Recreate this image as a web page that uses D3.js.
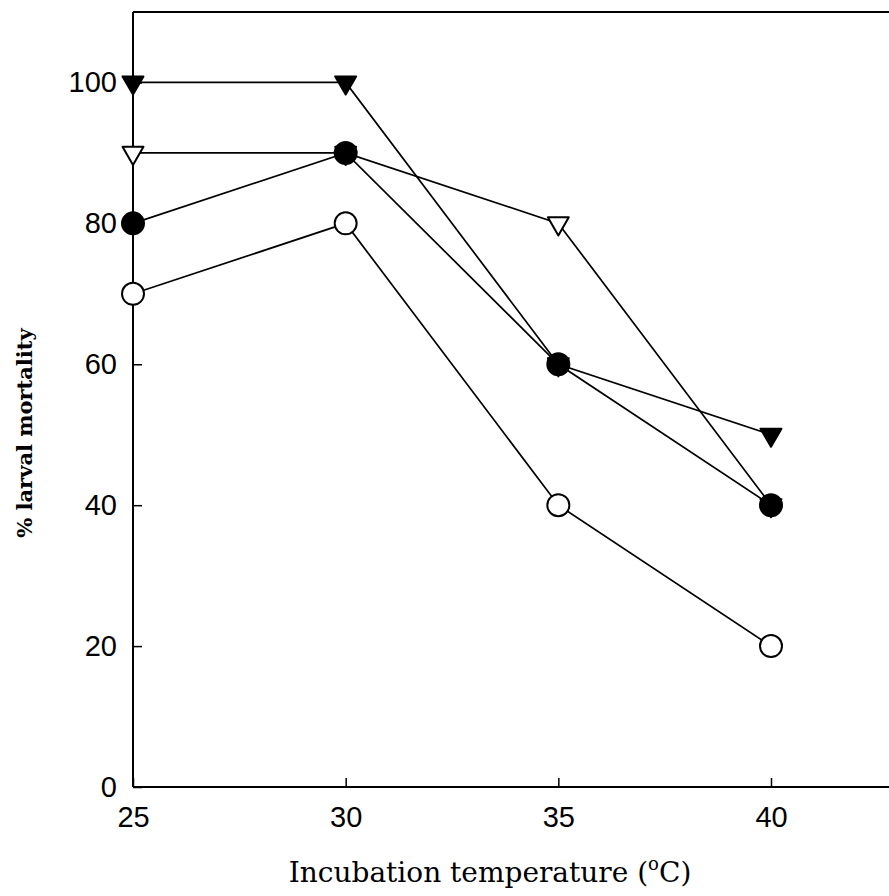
<!DOCTYPE html>
<html><head><meta charset="utf-8">
<script src="https://cdn.jsdelivr.net/npm/d3@7"></script>
<style>html,body{margin:0;padding:0;background:#fff}</style>
</head><body>
<svg id="c" width="889" height="896"></svg>
<script>
const temps = [25, 30, 35, 40];
const filledTriangle = [100, 100, 60, 50];
const openTriangle = [90, 90, 80, 40];
const filledCircle = [80, 90, 60, 40];
const openCircle = [70, 80, 40, 20];
const xTicks = [25, 30, 35, 40];
const yTicks = [0, 20, 40, 60, 80, 100];

(function () {
const series = [
  {name: "openTriangle", values: openTriangle, shape: "triangle", fill: "#fff"},
  {name: "filledTriangle", values: filledTriangle, shape: "triangle", fill: "#000"},
  {name: "openCircle", values: openCircle, shape: "circle", fill: "#fff"},
  {name: "filledCircle", values: filledCircle, shape: "circle", fill: "#000"}
];

const svg = d3.select("#c");
const mLeft = 133, mBottom = 787, mTop = 12, mRight = 889;
const x = d3.scaleLinear().domain([25, 40]).range([mLeft, 771]);
const y = d3.scaleLinear().domain([0, 110]).range([mBottom, mTop]);

const g = svg.append("g");
g.append("line").attr("x1", mLeft).attr("x2", mRight).attr("y1", mTop).attr("y2", mTop)
  .attr("stroke", "#000").attr("stroke-width", 2);

const xAxis = d3.axisBottom(x).tickValues(xTicks).tickSizeInner(-9).tickSizeOuter(0).tickPadding(19);
const xg = g.append("g").attr("transform", `translate(0,${mBottom})`).call(xAxis);
xg.select(".domain").attr("d", `M${mLeft},0H${mRight}`).attr("stroke-width", 2);
xg.selectAll(".tick line").attr("stroke-width", 1.5);
xg.selectAll(".tick text").attr("font-family", "Liberation Sans, Arial, sans-serif").attr("font-size", 29).attr("fill", "#000");

const yAxis = d3.axisLeft(y).tickValues(yTicks).tickSizeInner(-9).tickSizeOuter(0).tickPadding(16);
const yg = g.append("g").attr("transform", `translate(${mLeft},0)`).call(yAxis);
yg.select(".domain").attr("d", `M0,${mBottom}V${mTop}`).attr("stroke-width", 2);
yg.selectAll(".tick line").attr("stroke-width", 1.5);
yg.selectAll(".tick text").attr("font-family", "Liberation Sans, Arial, sans-serif").attr("font-size", 29).attr("fill", "#000");

const xt = svg.append("text").attr("x", 490).attr("y", 882).attr("text-anchor", "middle")
  .attr("font-family", "DejaVu Serif, serif").attr("font-size", 28).attr("fill", "#000");
xt.append("tspan").text("Incubation temperature (");
xt.append("tspan").attr("dy", -12).attr("font-size", 18).text("o");
xt.append("tspan").attr("dy", 12).text("C)");

svg.append("text").attr("transform", "translate(32,433) rotate(-90)").attr("text-anchor", "middle")
  .attr("font-family", "DejaVu Serif, serif").attr("font-weight", "bold").attr("font-size", 21).attr("fill", "#000")
  .text("% larval mortality");

const line = d3.line().x((d, i) => x(temps[i])).y(d => y(d));
svg.append("g").selectAll("path").data(series).join("path")
  .attr("d", s => line(s.values)).attr("fill", "none").attr("stroke", "#000").attr("stroke-width", 1.7);

const circleSym = d3.symbol().type(d3.symbolCircle).size(Math.PI * 11 * 11);
const triSym = d3.symbol().type(d3.symbolTriangle).size(190);
series.forEach(s => {
  svg.append("g").selectAll("path").data(s.values).join("path")
    .attr("d", s.shape === "circle" ? circleSym() : triSym())
    .attr("transform", (d, i) => `translate(${x(temps[i])},${y(d)})` + (s.shape === "triangle" ? " rotate(180)" : ""))
    .attr("fill", s.fill).attr("stroke", "#000").attr("stroke-width", 2).attr("stroke-linejoin", "round");
});
})();
</script>
</body></html>
